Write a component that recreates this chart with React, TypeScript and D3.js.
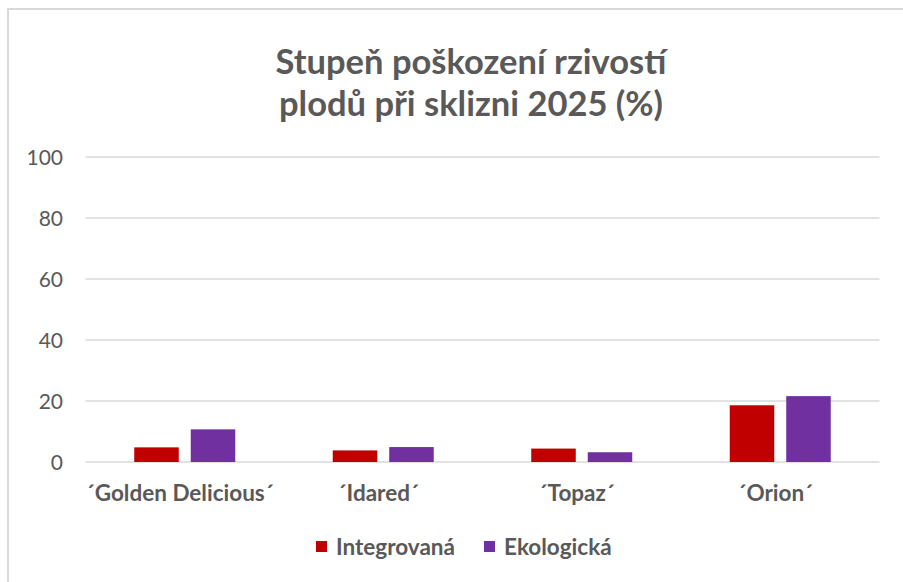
import React, { useEffect, useRef } from 'react';
import * as d3 from 'd3';

const categories = ['´Golden Delicious´', '´Idared´', '´Topaz´', '´Orion´'];
const seriesNames = ['Integrovaná', 'Ekologická'];
const integrovana = [4.8, 3.8, 4.4, 18.6];
const ekologicka = [10.7, 4.9, 3.2, 21.6];
const yTicks = [0, 20, 40, 60, 80, 100];
const titleLines = ['Stupeň poškození rzivostí', 'plodů při sklizni 2025 (%)'];

const colors = ['#C00000', '#7030A0'];
const FONT = 'Lato, "Open Sans", sans-serif';

export default function App() {
  const ref = useRef<SVGSVGElement>(null);

  useEffect(() => {
    const width = 903, height = 582;
    const margin = { top: 157, right: 24, bottom: 120, left: 85.5 };
    const svg = d3.select(ref.current);
    svg.selectAll('*').remove();

    // outer chart border (runs off the right/bottom edge like the screenshot)
    svg.append('rect')
      .attr('x', 8).attr('y', 9)
      .attr('width', width + 20).attr('height', height + 20)
      .attr('fill', '#fff')
      .attr('stroke', '#D9D9D9')
      .attr('stroke-width', 2);

    const x0 = d3.scaleBand()
      .domain(categories)
      .range([margin.left, width - margin.right + 0.5])
      .paddingInner(0)
      .paddingOuter(0);

    const x1 = d3.scaleBand()
      .domain(seriesNames)
      .range([0, 101])
      .paddingInner(0.212);

    const y = d3.scaleLinear()
      .domain([0, 100])
      .range([462, 157]);

    // gridlines
    svg.append('g')
      .selectAll('line')
      .data(yTicks)
      .enter().append('line')
      .attr('x1', x0.range()[0])
      .attr('x2', x0.range()[1])
      .attr('y1', d => y(d))
      .attr('y2', d => y(d))
      .attr('stroke', '#D9D9D9')
      .attr('stroke-width', 1.5);

    // y tick labels
    svg.append('g')
      .selectAll('text')
      .data(yTicks)
      .enter().append('text')
      .attr('x', 63)
      .attr('y', d => y(d))
      .attr('dy', '0.36em')
      .attr('text-anchor', 'end')
      .attr('font-family', FONT)
      .attr('font-size', 21)
      .attr('fill', '#595959')
      .text(d => d);

    const data = [integrovana, ekologicka];
    const groups = svg.append('g')
      .selectAll('g')
      .data(categories)
      .enter().append('g')
      .attr('transform', d => 'translate(' + (x0(d)! + (x0.bandwidth() - 101) / 2) + ',0)');

    groups.selectAll('rect')
      .data((d, i) => seriesNames.map((s, j) => ({ s, v: data[j][i], j })))
      .enter().append('rect')
      .attr('x', d => x1(d.s)!)
      .attr('y', d => y(d.v))
      .attr('width', x1.bandwidth())
      .attr('height', d => y(0) - y(d.v))
      .attr('fill', d => colors[d.j]);

    // category labels
    svg.append('g')
      .selectAll('text')
      .data(categories)
      .enter().append('text')
      .attr('x', d => x0(d)! + x0.bandwidth() / 2 - 5)
      .attr('y', 501)
      .attr('text-anchor', 'middle')
      .attr('font-family', FONT)
      .attr('font-size', 22.5)
      .attr('font-weight', 'bold')
      .attr('fill', '#595959')
      .text(d => d);

    // title
    svg.append('g')
      .selectAll('text')
      .data(titleLines)
      .enter().append('text')
      .attr('x', 471)
      .attr('y', (d, i) => 74 + i * 42)
      .attr('text-anchor', 'middle')
      .attr('font-family', FONT)
      .attr('font-size', 34.5)
      .attr('font-weight', 'bold')
      .attr('fill', '#595959')
      .text(d => d);

    // legend
    const legendX = [316, 484];
    const legend = svg.append('g')
      .selectAll('g')
      .data(seriesNames)
      .enter().append('g')
      .attr('transform', (d, i) => 'translate(' + legendX[i] + ',541)');
    legend.append('rect')
      .attr('width', 11).attr('height', 11)
      .attr('fill', (d, i) => colors[i]);
    legend.append('text')
      .attr('x', 20)
      .attr('y', 14)
      .attr('font-family', FONT)
      .attr('font-size', 22.5)
      .attr('font-weight', 'bold')
      .attr('fill', '#595959')
      .text(d => d);
  }, []);

  return (
    <svg ref={ref} width={903} height={582}
      style={{ position: 'absolute', left: 0, top: 0, background: '#fff' }} />
  );
}
